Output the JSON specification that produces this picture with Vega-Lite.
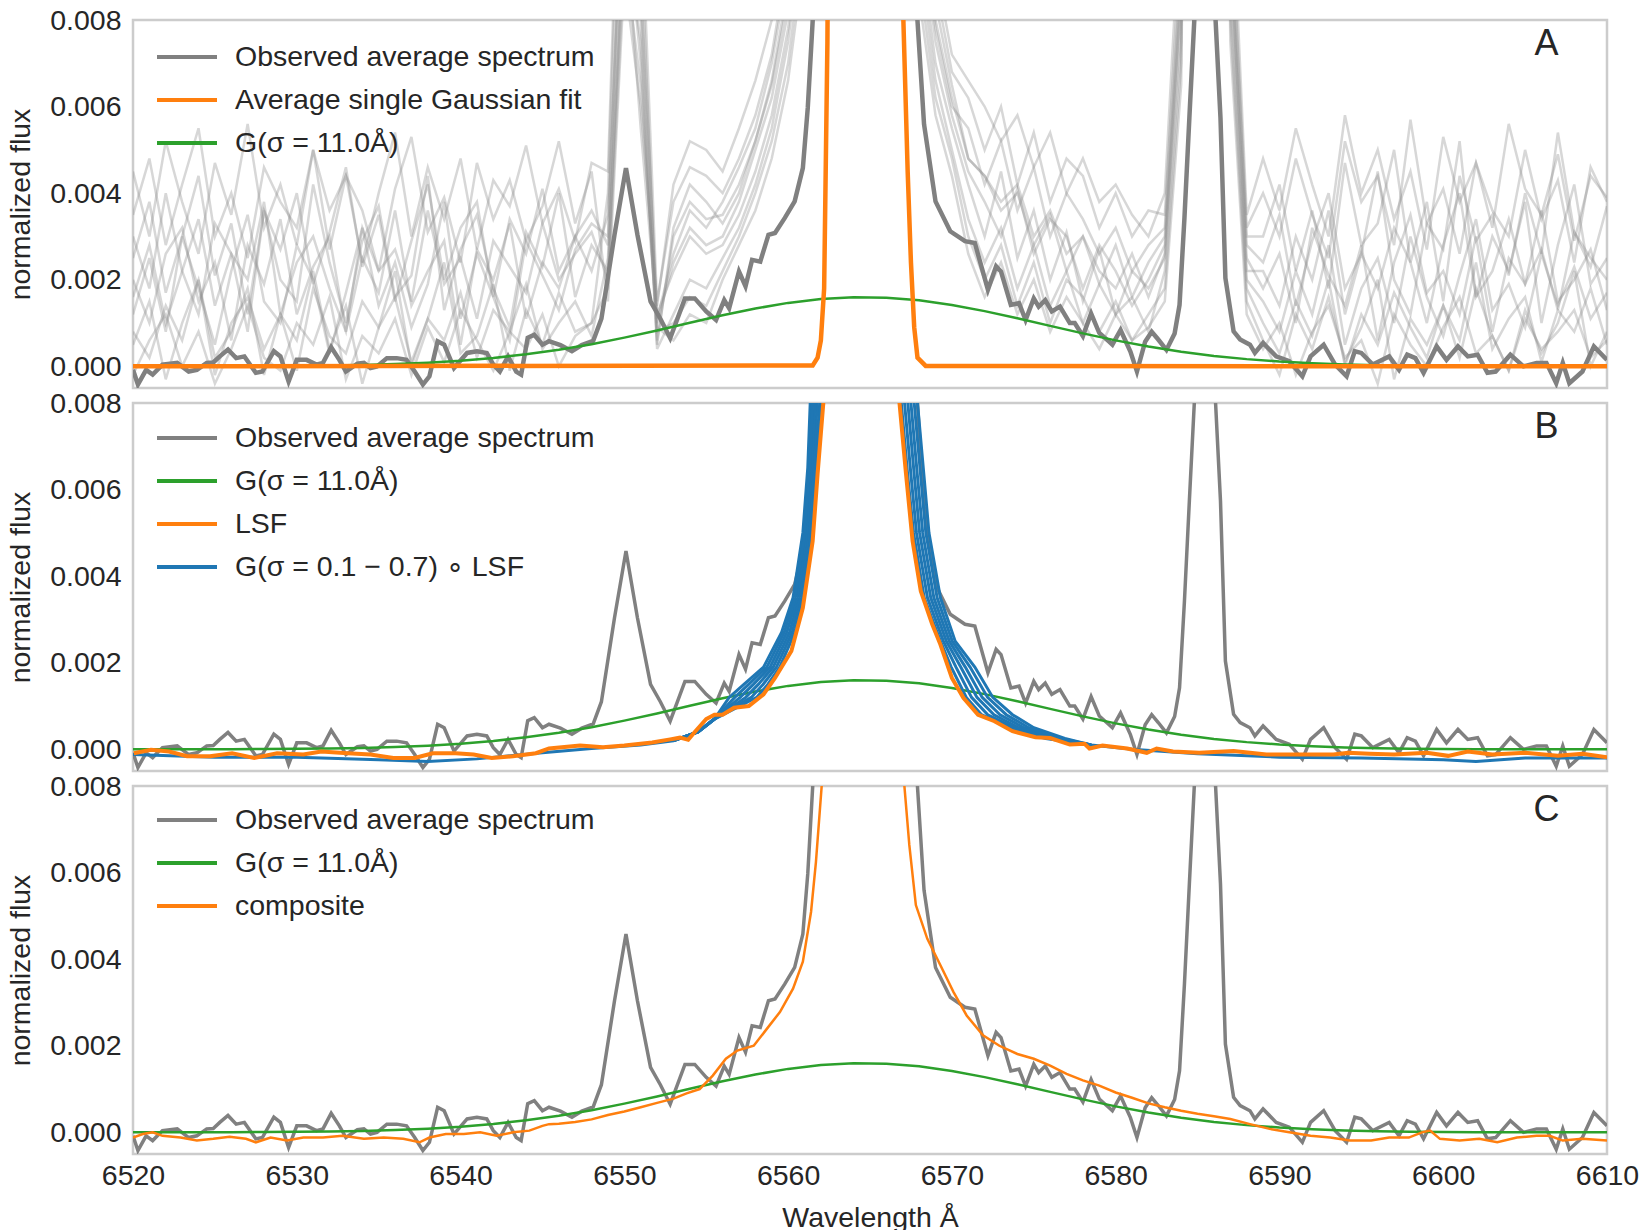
{
"$schema": "https://vega.github.io/schema/vega-lite/v6.json",
"padding": {"left": 5, "top": 4, "right": 4, "bottom": 4},
"background": "white",
"bounds": "flush",
"config": {
  "font": "Liberation Sans",
  "view": {"stroke": "#cccccc", "strokeWidth": 2.5},
  "axis": {"labelFontSize": 28.5, "titleFontSize": 28.5, "labelColor": "#262626", "titleColor": "#262626", "titleFontWeight": "normal", "domain": false, "ticks": false, "grid": false, "labelPadding": 12, "labelFlush": false, "labelOverlap": false, "labelFont": "Liberation Sans", "titleFont": "Liberation Sans"},
  "legend": {"orient": "none", "padding": 0, "symbolType": "M-2,0L2,0", "symbolSize": 900, "symbolStrokeWidth": 4, "labelFontSize": 28.5, "labelColor": "#262626", "labelFont": "Liberation Sans", "labelOffset": 31, "rowPadding": 11, "labelLimit": 0}
},
"datasets": {
"avg": [{"x":6520.0,"y":-0.00008},{"x":6520.3,"y":-0.00042},{"x":6520.8,"y":-0.00008},{"x":6521.2,"y":-0.00019},{"x":6521.8,"y":0.00004},{"x":6522.7,"y":0.00008},{"x":6523.4,"y":-0.00012},{"x":6523.9,"y":-0.00008},{"x":6524.5,"y":0.00008},{"x":6524.9,"y":0.00009},{"x":6525.3,"y":0.00023},{"x":6525.8,"y":0.00039},{"x":6526.3,"y":0.00019},{"x":6526.8,"y":0.00023},{"x":6527.5,"y":-0.00015},{"x":6527.9,"y":-0.00012},{"x":6528.6,"y":0.00035},{"x":6529.0,"y":0.00023},{"x":6529.5,"y":-0.00035},{"x":6530.0,"y":0.00015},{"x":6530.6,"y":0.00015},{"x":6531.2,"y":0.00004},{"x":6531.6,"y":0.00008},{"x":6532.1,"y":0.00044},{"x":6532.6,"y":0.00015},{"x":6533.0,"y":-0.00012},{"x":6533.7,"y":0.00006},{"x":6534.1,"y":0.00008},{"x":6534.5,"y":-0.00004},{"x":6534.9,"y":0.0},{"x":6535.5,"y":0.00019},{"x":6536.1,"y":0.00019},{"x":6536.7,"y":0.00015},{"x":6537.2,"y":-0.00012},{"x":6537.7,"y":-0.00042},{"x":6538.1,"y":-0.00023},{"x":6538.6,"y":0.00058},{"x":6539.0,"y":0.0005},{"x":6539.6,"y":-0.00004},{"x":6540.4,"y":0.00031},{"x":6541.0,"y":0.00035},{"x":6541.6,"y":0.00031},{"x":6542.0,"y":0.00004},{"x":6542.4,"y":-0.00012},{"x":6542.9,"y":0.00023},{"x":6543.4,"y":-0.00012},{"x":6543.7,"y":-0.00019},{"x":6544.1,"y":0.00066},{"x":6544.5,"y":0.00073},{"x":6545.0,"y":0.0005},{"x":6545.4,"y":0.00058},{"x":6546.1,"y":0.00049},{"x":6546.8,"y":0.00035},{"x":6547.4,"y":0.00049},{"x":6548.1,"y":0.00059},{"x":6548.6,"y":0.0011},{"x":6549.4,"y":0.00304},{"x":6550.1,"y":0.00458},{"x":6550.8,"y":0.00304},{"x":6551.6,"y":0.0015},{"x":6552.2,"y":0.0011},{"x":6552.8,"y":0.00065},{"x":6553.7,"y":0.00157},{"x":6554.3,"y":0.00157},{"x":6555.0,"y":0.00127},{"x":6555.6,"y":0.00107},{"x":6556.1,"y":0.00153},{"x":6556.4,"y":0.00134},{"x":6557.0,"y":0.00219},{"x":6557.4,"y":0.00185},{"x":6557.8,"y":0.00246},{"x":6558.3,"y":0.00242},{"x":6558.8,"y":0.00304},{"x":6559.2,"y":0.00308},{"x":6559.8,"y":0.00343},{"x":6560.4,"y":0.00381},{"x":6560.9,"y":0.00458},{"x":6561.2,"y":0.00597},{"x":6561.5,"y":0.00798},{"x":6562.0,"y":0.013},{"x":6563.0,"y":0.03},{"x":6564.0,"y":0.045},{"x":6565.0,"y":0.05},{"x":6566.0,"y":0.045},{"x":6567.0,"y":0.025},{"x":6567.5,"y":0.0125},{"x":6567.9,"y":0.00798},{"x":6568.3,"y":0.00559},{"x":6569.0,"y":0.00381},{"x":6569.9,"y":0.00312},{"x":6570.8,"y":0.00289},{"x":6571.4,"y":0.00285},{"x":6572.2,"y":0.00177},{"x":6572.7,"y":0.00231},{"x":6573.0,"y":0.00219},{"x":6573.6,"y":0.00142},{"x":6574.1,"y":0.00146},{"x":6574.5,"y":0.00107},{"x":6575.0,"y":0.00157},{"x":6575.3,"y":0.00138},{"x":6575.7,"y":0.00153},{"x":6576.1,"y":0.00127},{"x":6576.6,"y":0.00138},{"x":6577.2,"y":0.001},{"x":6577.5,"y":0.001},{"x":6578.0,"y":0.0007},{"x":6578.5,"y":0.00122},{"x":6579.0,"y":0.00077},{"x":6579.6,"y":0.00057},{"x":6579.8,"y":0.0005},{"x":6580.3,"y":0.00084},{"x":6580.9,"y":0.00034},{"x":6581.3,"y":-0.00012},{"x":6581.8,"y":0.00057},{"x":6582.2,"y":0.0008},{"x":6582.6,"y":0.00062},{"x":6583.1,"y":0.00038},{"x":6583.6,"y":0.00076},{"x":6583.9,"y":0.00142},{"x":6584.2,"y":0.00343},{"x":6584.5,"y":0.00574},{"x":6584.8,"y":0.00799},{"x":6585.2,"y":0.015},{"x":6585.7,"y":0.015},{"x":6586.1,"y":0.008},{"x":6586.4,"y":0.00574},{"x":6586.7,"y":0.00204},{"x":6587.2,"y":0.00081},{"x":6587.6,"y":0.00062},{"x":6588.2,"y":0.0005},{"x":6588.5,"y":0.00031},{"x":6589.0,"y":0.00054},{"x":6589.8,"y":0.00023},{"x":6590.6,"y":0.00012},{"x":6591.4,"y":-0.00023},{"x":6591.9,"y":0.00023},{"x":6592.7,"y":0.0005},{"x":6593.4,"y":0.00004},{"x":6594.1,"y":-0.00023},{"x":6594.6,"y":0.00035},{"x":6595.0,"y":0.00031},{"x":6595.7,"y":0.00004},{"x":6596.7,"y":0.00023},{"x":6597.3,"y":-0.00008},{"x":6597.8,"y":0.00027},{"x":6598.3,"y":0.00019},{"x":6598.8,"y":-0.00015},{"x":6599.6,"y":0.00046},{"x":6600.2,"y":0.00015},{"x":6600.9,"y":0.00046},{"x":6601.5,"y":0.00023},{"x":6602.1,"y":0.00027},{"x":6602.7,"y":-0.00015},{"x":6603.2,"y":-0.00012},{"x":6604.1,"y":0.00027},{"x":6604.9,"y":0.0},{"x":6605.7,"y":0.00008},{"x":6606.3,"y":0.00008},{"x":6606.9,"y":-0.00039},{"x":6607.3,"y":0.00008},{"x":6607.7,"y":-0.00039},{"x":6608.5,"y":-0.00012},{"x":6609.2,"y":0.00046},{"x":6610.0,"y":0.00015}],
"gauss": [{"x":6520,"y":0.0000004},{"x":6522,"y":0.0000009},{"x":6524,"y":0.0000018},{"x":6526,"y":0.0000034},{"x":6528,"y":0.0000063},{"x":6530,"y":0.0000114},{"x":6532,"y":0.0000198},{"x":6534,"y":0.0000334},{"x":6536,"y":0.0000544},{"x":6538,"y":0.0000859},{"x":6540,"y":0.000131},{"x":6542,"y":0.000194},{"x":6544,"y":0.000277},{"x":6546,"y":0.000383},{"x":6548,"y":0.000512},{"x":6550,"y":0.000663},{"x":6552,"y":0.00083},{"x":6554,"y":0.001006},{"x":6556,"y":0.001179},{"x":6558,"y":0.001336},{"x":6560,"y":0.001466},{"x":6562,"y":0.001556},{"x":6564,"y":0.001598},{"x":6566,"y":0.001587},{"x":6568,"y":0.001525},{"x":6570,"y":0.001418},{"x":6572,"y":0.001276},{"x":6574,"y":0.001111},{"x":6576,"y":0.000935},{"x":6578,"y":0.000762},{"x":6580,"y":0.0006},{"x":6582,"y":0.000458},{"x":6584,"y":0.000338},{"x":6586,"y":0.000241},{"x":6588,"y":0.000167},{"x":6590,"y":0.000111},{"x":6592,"y":0.000072},{"x":6594,"y":0.000045},{"x":6596,"y":0.000027},{"x":6598,"y":0.000016},{"x":6600,"y":0.000009},{"x":6602,"y":0.000005},{"x":6604,"y":0.000003},{"x":6606,"y":0.000001},{"x":6608,"y":0.000001},{"x":6610,"y":0.0000004}],
"fitA": [{"x":6520,"y":0},{"x":6561.5,"y":0.00002},{"x":6561.8,"y":0.0002},{"x":6562.0,"y":0.0006},{"x":6562.2,"y":0.0018},{"x":6562.4,"y":0.0075},{"x":6562.6,"y":0.02},{"x":6563.0,"y":0.05},{"x":6564.6,"y":0.1},{"x":6566.2,"y":0.05},{"x":6566.7,"y":0.02},{"x":6567.0,"y":0.0085},{"x":6567.3,"y":0.0045},{"x":6567.5,"y":0.0024},{"x":6567.7,"y":0.0009},{"x":6567.9,"y":0.0002},{"x":6568.4,"y":0.00001},{"x":6610,"y":0}],
"lsf": [{"x":6520.05,"y":-0.00009},{"x":6521.1,"y":-0.00001},{"x":6522.2,"y":-0.00005},{"x":6523.3,"y":-0.00016},{"x":6524.7,"y":-0.00016},{"x":6526.05,"y":-0.00009},{"x":6527.4,"y":-0.0002},{"x":6528.8,"y":-0.00009},{"x":6530.4,"y":-0.00012},{"x":6531.5,"y":-0.00005},{"x":6533.1,"y":-0.00009},{"x":6534.5,"y":-0.00012},{"x":6535.9,"y":-0.0002},{"x":6537.2,"y":-0.0002},{"x":6538.3,"y":-0.00009},{"x":6539.7,"y":-0.00009},{"x":6540.8,"y":-0.00012},{"x":6541.9,"y":-0.0002},{"x":6543.2,"y":-0.00016},{"x":6544.6,"y":-0.00009},{"x":6545.4,"y":0.00002},{"x":6547.3,"y":0.00009},{"x":6548.7,"y":0.00005},{"x":6550.0,"y":0.00009},{"x":6551.7,"y":0.00016},{"x":6552.8,"y":0.00023},{"x":6553.4,"y":0.00027},{"x":6553.9,"y":0.00022},{"x":6554.3,"y":0.0004},{"x":6555.0,"y":0.0007},{"x":6555.5,"y":0.0008},{"x":6556.0,"y":0.0008},{"x":6556.7,"y":0.00096},{"x":6557.6,"y":0.001},{"x":6558.5,"y":0.00127},{"x":6559.2,"y":0.00165},{"x":6560.2,"y":0.00227},{"x":6560.9,"y":0.00327},{"x":6561.5,"y":0.00481},{"x":6561.8,"y":0.00636},{"x":6562.15,"y":0.008},{"x":6562.5,"y":0.014},{"x":6563.0,"y":0.04},{"x":6564.6,"y":0.1},{"x":6566.3,"y":0.04},{"x":6566.6,"y":0.012},{"x":6566.8,"y":0.008},{"x":6567.2,"y":0.00636},{"x":6567.6,"y":0.00481},{"x":6568.1,"y":0.00366},{"x":6568.8,"y":0.00289},{"x":6569.3,"y":0.00242},{"x":6570.0,"y":0.00165},{"x":6570.7,"y":0.00119},{"x":6571.6,"y":0.0008},{"x":6572.6,"y":0.00065},{"x":6573.7,"y":0.00042},{"x":6575.1,"y":0.00028},{"x":6576.0,"y":0.00026},{"x":6577.2,"y":0.00011},{"x":6578.1,"y":0.00013},{"x":6578.4,"y":0.00002},{"x":6579.2,"y":0.00009},{"x":6580.7,"y":0.00002},{"x":6581.9,"y":-0.00008},{"x":6582.5,"y":0.00002},{"x":6583.5,"y":-0.00005},{"x":6585.1,"y":-0.00008},{"x":6587.2,"y":-0.00004},{"x":6588.2,"y":-0.00008},{"x":6589.2,"y":-0.00012},{"x":6591.3,"y":-0.00012},{"x":6593.3,"y":-0.00012},{"x":6594.2,"y":-0.00008},{"x":6595.5,"y":-0.0001},{"x":6597.0,"y":-0.00012},{"x":6599.0,"y":-0.00008},{"x":6600.3,"y":-0.00015},{"x":6601.5,"y":-0.00005},{"x":6603.0,"y":-0.00012},{"x":6605.0,"y":-0.00008},{"x":6607.0,"y":-0.00015},{"x":6608.5,"y":-0.0001},{"x":6610.0,"y":-0.00018}],
"comp": [{"x":6520.0,"y":-0.00012},{"x":6520.6,"y":-0.00004},{"x":6521.2,"y":0.0},{"x":6521.8,"y":-0.00008},{"x":6522.9,"y":-0.00012},{"x":6523.9,"y":-0.00019},{"x":6524.9,"y":-0.00015},{"x":6525.9,"y":-0.0001},{"x":6526.9,"y":-0.00015},{"x":6527.5,"y":-0.00023},{"x":6528.4,"y":-0.00012},{"x":6529.4,"y":-0.00019},{"x":6530.4,"y":-0.00012},{"x":6531.6,"y":-0.00012},{"x":6532.8,"y":-0.00008},{"x":6534.1,"y":-0.00015},{"x":6535.3,"y":-0.00012},{"x":6536.5,"y":-0.00015},{"x":6537.5,"y":-0.00023},{"x":6538.1,"y":-0.00012},{"x":6539.1,"y":-0.00004},{"x":6540.2,"y":-0.00004},{"x":6541.2,"y":0.0},{"x":6542.2,"y":-0.00008},{"x":6543.2,"y":0.0},{"x":6544.2,"y":0.00004},{"x":6545.0,"y":0.00015},{"x":6545.4,"y":0.00019},{"x":6546.0,"y":0.0002},{"x":6547.0,"y":0.00024},{"x":6548.0,"y":0.0003},{"x":6549.0,"y":0.0004},{"x":6550.0,"y":0.00048},{"x":6551.0,"y":0.00058},{"x":6552.0,"y":0.00068},{"x":6553.0,"y":0.00078},{"x":6553.8,"y":0.0009},{"x":6554.6,"y":0.001},{"x":6555.4,"y":0.00131},{"x":6556.2,"y":0.0017},{"x":6556.9,"y":0.00189},{"x":6557.9,"y":0.002},{"x":6558.7,"y":0.00239},{"x":6559.5,"y":0.00278},{"x":6560.3,"y":0.00332},{"x":6560.9,"y":0.00394},{"x":6561.4,"y":0.00509},{"x":6561.7,"y":0.00625},{"x":6562.05,"y":0.008},{"x":6562.5,"y":0.014},{"x":6563.2,"y":0.04},{"x":6564.6,"y":0.08},{"x":6566.2,"y":0.04},{"x":6566.8,"y":0.014},{"x":6567.1,"y":0.008},{"x":6567.4,"y":0.00664},{"x":6567.8,"y":0.00525},{"x":6568.5,"y":0.00447},{"x":6569.3,"y":0.00386},{"x":6570.1,"y":0.00324},{"x":6570.9,"y":0.0027},{"x":6571.9,"y":0.00224},{"x":6572.9,"y":0.002},{"x":6574.0,"y":0.00181},{"x":6575.0,"y":0.0017},{"x":6576.0,"y":0.00154},{"x":6577.0,"y":0.00135},{"x":6578.0,"y":0.0012},{"x":6579.0,"y":0.00108},{"x":6580.0,"y":0.00092},{"x":6581.0,"y":0.0008},{"x":6582.0,"y":0.00067},{"x":6583.0,"y":0.00058},{"x":6584.0,"y":0.0005},{"x":6585.0,"y":0.00043},{"x":6586.0,"y":0.00037},{"x":6587.0,"y":0.00031},{"x":6588.2,"y":0.00019},{"x":6589.4,"y":0.00008},{"x":6590.6,"y":0.0},{"x":6591.9,"y":-0.00008},{"x":6593.1,"y":-0.00012},{"x":6594.3,"y":-0.00019},{"x":6595.6,"y":-0.00019},{"x":6596.7,"y":-0.00012},{"x":6597.9,"y":-0.00012},{"x":6598.7,"y":0.0},{"x":6599.2,"y":0.00004},{"x":6599.8,"y":-0.00015},{"x":6601.0,"y":-0.00019},{"x":6602.2,"y":-0.00015},{"x":6603.3,"y":-0.00023},{"x":6604.5,"y":-0.00012},{"x":6605.7,"y":-0.00008},{"x":6606.5,"y":-0.00008},{"x":6607.3,"y":-0.00019},{"x":6608.5,"y":-0.00015},{"x":6610.0,"y":-0.00019}],
"blue": [
{"k":"b6","x":6520,"y":-0.00012},{"k":"b6","x":6525,"y":-0.00018},{"k":"b6","x":6530,"y":-0.00018},{"k":"b6","x":6535,"y":-0.00024},{"k":"b6","x":6538,"y":-0.00028},{"k":"b6","x":6541,"y":-0.00022},{"k":"b6","x":6545,"y":-0.00008},{"k":"b6","x":6548,"y":0.00002},{"k":"b6","x":6551,"y":0.0001},{"k":"b6","x":6553,"y":0.0002},{"k":"b6","x":6554.5,"y":0.0004},{"k":"b6","x":6555.5,"y":0.0007},{"k":"b6","x":6556.4,"y":0.0012},{"k":"b6","x":6557.3,"y":0.0015},{"k":"b6","x":6558.5,"y":0.0019},{"k":"b6","x":6559.6,"y":0.0027},{"k":"b6","x":6560.3,"y":0.0035},{"k":"b6","x":6560.9,"y":0.005},{"k":"b6","x":6561.2,"y":0.0065},{"k":"b6","x":6561.35,"y":0.008},{"k":"b6","x":6561.7,"y":0.012},{"k":"b6","x":6564.6,"y":0.06},{"k":"b6","x":6567.6,"y":0.012},{"k":"b6","x":6567.9,"y":0.008},{"k":"b6","x":6568.3,"y":0.0063},{"k":"b6","x":6568.6,"y":0.005},{"k":"b6","x":6569.3,"y":0.0035},{"k":"b6","x":6570.2,"y":0.0025},{"k":"b6","x":6571.4,"y":0.0019},{"k":"b6","x":6572.5,"y":0.0012},{"k":"b6","x":6573.7,"y":0.0008},{"k":"b6","x":6575.0,"y":0.0005},{"k":"b6","x":6576.9,"y":0.00025},{"k":"b6","x":6578.5,"y":0.0001},{"k":"b6","x":6581,"y":0.0},{"k":"b6","x":6585,"y":-0.0001},{"k":"b6","x":6590,"y":-0.00018},{"k":"b6","x":6595,"y":-0.0002},{"k":"b6","x":6600,"y":-0.00024},{"k":"b6","x":6602,"y":-0.00028},{"k":"b6","x":6605,"y":-0.0002},{"k":"b6","x":6610,"y":-0.0002},
{"k":"b1","x":6553,"y":0.0002},{"k":"b1","x":6554.5,"y":0.0004},{"k":"b1","x":6555.5,"y":0.0007},{"k":"b1","x":6558.08,"y":0.0012},{"k":"b1","x":6558.76,"y":0.0015},{"k":"b1","x":6559.49,"y":0.0019},{"k":"b1","x":6560.41,"y":0.0027},{"k":"b1","x":6560.92,"y":0.0035},{"k":"b1","x":6561.48,"y":0.005},{"k":"b1","x":6561.77,"y":0.0065},{"k":"b1","x":6562.07,"y":0.008},{"k":"b1","x":6562.33,"y":0.012},{"k":"b1","x":6564.6,"y":0.06},{"k":"b1","x":6566.7,"y":0.012},{"k":"b1","x":6566.91,"y":0.008},{"k":"b1","x":6567.31,"y":0.0063},{"k":"b1","x":6567.66,"y":0.005},{"k":"b1","x":6568.31,"y":0.0035},{"k":"b1","x":6569.3,"y":0.0025},{"k":"b1","x":6569.96,"y":0.0019},{"k":"b1","x":6570.88,"y":0.0012},{"k":"b1","x":6571.81,"y":0.0008},{"k":"b1","x":6573.47,"y":0.0005},{"k":"b1","x":6575.73,"y":0.00025},{"k":"b1","x":6578.5,"y":0.0001},
{"k":"b2","x":6553,"y":0.0002},{"k":"b2","x":6554.5,"y":0.0004},{"k":"b2","x":6555.5,"y":0.0007},{"k":"b2","x":6557.75,"y":0.0012},{"k":"b2","x":6558.47,"y":0.0015},{"k":"b2","x":6559.29,"y":0.0019},{"k":"b2","x":6560.25,"y":0.0027},{"k":"b2","x":6560.8,"y":0.0035},{"k":"b2","x":6561.36,"y":0.005},{"k":"b2","x":6561.65,"y":0.0065},{"k":"b2","x":6561.93,"y":0.008},{"k":"b2","x":6562.2,"y":0.012},{"k":"b2","x":6564.6,"y":0.06},{"k":"b2","x":6566.88,"y":0.012},{"k":"b2","x":6567.11,"y":0.008},{"k":"b2","x":6567.51,"y":0.0063},{"k":"b2","x":6567.84,"y":0.005},{"k":"b2","x":6568.51,"y":0.0035},{"k":"b2","x":6569.48,"y":0.0025},{"k":"b2","x":6570.25,"y":0.0019},{"k":"b2","x":6571.2,"y":0.0012},{"k":"b2","x":6572.19,"y":0.0008},{"k":"b2","x":6573.78,"y":0.0005},{"k":"b2","x":6575.96,"y":0.00025},{"k":"b2","x":6578.5,"y":0.0001},
{"k":"b3","x":6553,"y":0.0002},{"k":"b3","x":6554.5,"y":0.0004},{"k":"b3","x":6555.5,"y":0.0007},{"k":"b3","x":6557.41,"y":0.0012},{"k":"b3","x":6558.18,"y":0.0015},{"k":"b3","x":6559.09,"y":0.0019},{"k":"b3","x":6560.09,"y":0.0027},{"k":"b3","x":6560.67,"y":0.0035},{"k":"b3","x":6561.25,"y":0.005},{"k":"b3","x":6561.54,"y":0.0065},{"k":"b3","x":6561.78,"y":0.008},{"k":"b3","x":6562.08,"y":0.012},{"k":"b3","x":6564.6,"y":0.06},{"k":"b3","x":6567.06,"y":0.012},{"k":"b3","x":6567.31,"y":0.008},{"k":"b3","x":6567.71,"y":0.0063},{"k":"b3","x":6568.03,"y":0.005},{"k":"b3","x":6568.71,"y":0.0035},{"k":"b3","x":6569.66,"y":0.0025},{"k":"b3","x":6570.54,"y":0.0019},{"k":"b3","x":6571.53,"y":0.0012},{"k":"b3","x":6572.57,"y":0.0008},{"k":"b3","x":6574.08,"y":0.0005},{"k":"b3","x":6576.2,"y":0.00025},{"k":"b3","x":6578.5,"y":0.0001},
{"k":"b4","x":6553,"y":0.0002},{"k":"b4","x":6554.5,"y":0.0004},{"k":"b4","x":6555.5,"y":0.0007},{"k":"b4","x":6557.07,"y":0.0012},{"k":"b4","x":6557.88,"y":0.0015},{"k":"b4","x":6558.9,"y":0.0019},{"k":"b4","x":6559.92,"y":0.0027},{"k":"b4","x":6560.55,"y":0.0035},{"k":"b4","x":6561.13,"y":0.005},{"k":"b4","x":6561.43,"y":0.0065},{"k":"b4","x":6561.64,"y":0.008},{"k":"b4","x":6561.95,"y":0.012},{"k":"b4","x":6564.6,"y":0.06},{"k":"b4","x":6567.24,"y":0.012},{"k":"b4","x":6567.5,"y":0.008},{"k":"b4","x":6567.9,"y":0.0063},{"k":"b4","x":6568.22,"y":0.005},{"k":"b4","x":6568.9,"y":0.0035},{"k":"b4","x":6569.84,"y":0.0025},{"k":"b4","x":6570.82,"y":0.0019},{"k":"b4","x":6571.85,"y":0.0012},{"k":"b4","x":6572.94,"y":0.0008},{"k":"b4","x":6574.39,"y":0.0005},{"k":"b4","x":6576.43,"y":0.00025},{"k":"b4","x":6578.5,"y":0.0001},
{"k":"b5","x":6553,"y":0.0002},{"k":"b5","x":6554.5,"y":0.0004},{"k":"b5","x":6555.5,"y":0.0007},{"k":"b5","x":6556.74,"y":0.0012},{"k":"b5","x":6557.59,"y":0.0015},{"k":"b5","x":6558.7,"y":0.0019},{"k":"b5","x":6559.76,"y":0.0027},{"k":"b5","x":6560.42,"y":0.0035},{"k":"b5","x":6561.02,"y":0.005},{"k":"b5","x":6561.31,"y":0.0065},{"k":"b5","x":6561.49,"y":0.008},{"k":"b5","x":6561.83,"y":0.012},{"k":"b5","x":6564.6,"y":0.06},{"k":"b5","x":6567.42,"y":0.012},{"k":"b5","x":6567.7,"y":0.008},{"k":"b5","x":6568.1,"y":0.0063},{"k":"b5","x":6568.41,"y":0.005},{"k":"b5","x":6569.1,"y":0.0035},{"k":"b5","x":6570.02,"y":0.0025},{"k":"b5","x":6571.11,"y":0.0019},{"k":"b5","x":6572.18,"y":0.0012},{"k":"b5","x":6573.32,"y":0.0008},{"k":"b5","x":6574.69,"y":0.0005},{"k":"b5","x":6576.67,"y":0.00025},{"k":"b5","x":6578.5,"y":0.0001}
],
"faint": [
{"x":6520,"f1":0.0012,"f2":0.003,"f3":0.0005,"f4":0.0035,"f5":0.002,"f6":0.0008,"f7":0.0045,"f8":-0.0002,"f9":0.0025,"f10":0.0016},
{"x":6521,"f1":0.0025,"f2":0.0018,"f3":0.0015,"f4":0.0048,"f5":0.001,"f6":0.0002,"f7":0.003,"f8":0.0006,"f9":0.0038,"f10":0.0028},
{"x":6522,"f1":0.0008,"f2":0.004,"f3":-0.0003,"f4":0.0028,"f5":0.0026,"f6":0.0014,"f7":0.0052,"f8":0.0012,"f9":0.0017,"f10":0.001},
{"x":6523,"f1":0.003,"f2":0.0022,"f3":0.001,"f4":0.0042,"f5":0.0032,"f6":0.0006,"f7":0.0038,"f8":0.0,"f9":0.003,"f10":0.0022},
{"x":6524,"f1":0.0018,"f2":0.0012,"f3":0.002,"f4":0.0055,"f5":0.0015,"f6":0.002,"f7":0.0026,"f8":0.0008,"f9":0.0044,"f10":0.0034},
{"x":6525,"f1":0.0005,"f2":0.0033,"f3":0.0002,"f4":0.003,"f5":0.0024,"f6":-0.0002,"f7":0.0047,"f8":-0.0004,"f9":0.0021,"f10":0.0014},
{"x":6526,"f1":0.0022,"f2":0.0026,"f3":0.0008,"f4":0.004,"f5":0.0006,"f6":0.001,"f7":0.0035,"f8":0.0004,"f9":0.0033,"f10":0.0026},
{"x":6527,"f1":0.0035,"f2":0.0008,"f3":0.0018,"f4":0.0025,"f5":0.0028,"f6":0.0016,"f7":0.0056,"f8":0.0014,"f9":0.0012,"f10":0.002},
{"x":6528,"f1":0.0015,"f2":0.0036,"f3":-0.0002,"f4":0.0046,"f5":0.0019,"f6":0.0004,"f7":0.0032,"f8":0.0002,"f9":0.0036,"f10":0.0038},
{"x":6529,"f1":0.001,"f2":0.002,"f3":0.0012,"f4":0.0038,"f5":0.0034,"f6":0.0012,"f7":0.0042,"f8":-0.0001,"f9":0.0027,"f10":0.0012},
{"x":6530,"f1":0.0028,"f2":0.0015,"f3":0.0006,"f4":0.0032,"f5":0.0012,"f6":-0.0001,"f7":0.0028,"f8":0.001,"f9":0.004,"f10":0.0024},
{"x":6531,"f1":0.002,"f2":0.0042,"f3":0.0022,"f4":0.005,"f5":0.0023,"f6":0.0018,"f7":0.005,"f8":0.0005,"f9":0.0019,"f10":0.003},
{"x":6532,"f1":0.0003,"f2":0.0024,"f3":0.0004,"f4":0.0027,"f5":0.003,"f6":0.0007,"f7":0.0036,"f8":0.0016,"f9":0.0031,"f10":0.0018},
{"x":6533,"f1":0.0017,"f2":0.001,"f3":0.0014,"f4":0.0044,"f5":0.0008,"f6":0.0003,"f7":0.0044,"f8":-0.0003,"f9":0.0046,"f10":0.0008},
{"x":6534,"f1":0.0032,"f2":0.0029,"f3":-0.0004,"f4":0.0036,"f5":0.0025,"f6":0.0015,"f7":0.0024,"f8":0.0007,"f9":0.0023,"f10":0.0032},
{"x":6535,"f1":0.0014,"f2":0.0037,"f3":0.0009,"f4":0.0022,"f5":0.0017,"f6":0.0009,"f7":0.004,"f8":0.0003,"f9":0.0035,"f10":0.0022},
{"x":6536,"f1":0.0024,"f2":0.0016,"f3":0.0016,"f4":0.0041,"f5":0.0036,"f6":0.0022,"f7":0.0054,"f8":0.0011,"f9":0.0015,"f10":0.0027},
{"x":6537,"f1":0.0009,"f2":0.0021,"f3":0.0001,"f4":0.0053,"f5":0.0014,"f6":0.0,"f7":0.003,"f8":-0.0002,"f9":0.0029,"f10":0.0015},
{"x":6538,"f1":0.0019,"f2":0.0044,"f3":0.0011,"f4":0.0031,"f5":0.0022,"f6":0.0011,"f7":0.0046,"f8":0.0009,"f9":0.0042,"f10":0.0036},
{"x":6539,"f1":0.0038,"f2":0.0013,"f3":0.0024,"f4":0.0039,"f5":0.0029,"f6":0.0006,"f7":0.0034,"f8":0.0001,"f9":0.002,"f10":0.0019},
{"x":6540,"f1":0.0011,"f2":0.0027,"f3":0.0003,"f4":0.0024,"f5":0.0005,"f6":0.0017,"f7":0.0048,"f8":0.0013,"f9":0.0032,"f10":0.0025},
{"x":6541,"f1":0.0026,"f2":0.0035,"f3":0.0007,"f4":0.0047,"f5":0.0027,"f6":0.0002,"f7":0.0027,"f8":0.0006,"f9":0.0038,"f10":0.0011},
{"x":6542,"f1":0.0016,"f2":0.0018,"f3":0.0019,"f4":0.0034,"f5":0.002,"f6":0.0013,"f7":0.0043,"f8":-0.0001,"f9":0.0016,"f10":0.0029},
{"x":6543,"f1":0.0006,"f2":0.0009,"f3":-0.0001,"f4":0.0043,"f5":0.0033,"f6":0.0008,"f7":0.0037,"f8":0.0008,"f9":0.0034,"f10":0.0023},
{"x":6544,"f1":0.0029,"f2":0.0031,"f3":0.0013,"f4":0.0029,"f5":0.0011,"f6":0.0019,"f7":0.0051,"f8":0.0004,"f9":0.0026,"f10":0.0017},
{"x":6545,"f1":0.0021,"f2":0.0023,"f3":0.0005,"f4":0.0037,"f5":0.0024,"f6":0.0004,"f7":0.0033,"f8":0.0012,"f9":0.0041,"f10":0.0033},
{"x":6546,"f1":0.0013,"f2":0.004,"f3":0.0017,"f4":0.0052,"f5":0.0018,"f6":0.001,"f7":0.0041,"f8":0.0,"f9":0.0022,"f10":0.002},
{"x":6547,"f1":0.0027,"f2":0.0016,"f3":0.0008,"f4":0.0033,"f5":0.003,"f6":0.0015,"f7":0.0029,"f8":0.0007,"f9":0.003,"f10":0.0026},
{"x":6548,"f1":0.0033,"f2":0.0028,"f3":0.001,"f4":0.0045,"f5":0.0022,"f6":0.0007,"f7":0.0047,"f8":0.001,"f9":0.0036,"f10":0.0031},
{"x":6549,"f1":0.003,"f2":0.0022,"f3":0.004,"f4":0.0015,"f5":0.0035,"f6":0.0025,"f7":0.0045,"f8":0.0018,"f9":0.0028,"f10":0.002},
{"x":6550,"f1":0.013,"f2":0.011,"f3":0.015,"f4":0.009,"f5":0.012,"f6":0.01,"f7":0.016,"f8":0.0095,"f9":0.0125,"f10":0.0105},
{"x":6551,"f1":0.009,"f2":0.007,"f3":0.01,"f4":0.006,"f5":0.0085,"f6":0.0075,"f7":0.011,"f8":0.0065,"f9":0.008,"f10":0.0055},
{"x":6552,"f1":0.0012,"f2":0.0006,"f3":0.0008,"f4":0.0015,"f5":0.001,"f6":0.0004,"f7":0.0014,"f8":0.0009,"f9":0.0005,"f10":0.0011},
{"x":6553,"f1":0.0022,"f2":0.003,"f3":0.001,"f4":0.0038,"f5":0.0024,"f6":0.0012,"f7":0.0042,"f8":0.0006,"f9":0.0032,"f10":0.0026},
{"x":6554,"f1":0.003,"f2":0.0038,"f3":0.0016,"f4":0.0046,"f5":0.0032,"f6":0.002,"f7":0.0052,"f8":0.0012,"f9":0.0042,"f10":0.0036},
{"x":6555,"f1":0.0026,"f2":0.0034,"f3":0.0014,"f4":0.0044,"f5":0.0028,"f6":0.0018,"f7":0.005,"f8":0.001,"f9":0.0038,"f10":0.0032},
{"x":6556,"f1":0.0028,"f2":0.0035,"f3":0.0022,"f4":0.004,"f5":0.003,"f6":0.0025,"f7":0.0045,"f8":0.002,"f9":0.0033,"f10":0.0038},
{"x":6557,"f1":0.0035,"f2":0.0042,"f3":0.003,"f4":0.0048,"f5":0.0038,"f6":0.0032,"f7":0.0055,"f8":0.0028,"f9":0.004,"f10":0.0046},
{"x":6558,"f1":0.0045,"f2":0.0052,"f3":0.004,"f4":0.0058,"f5":0.005,"f6":0.0042,"f7":0.0066,"f8":0.0036,"f9":0.0052,"f10":0.0055},
{"x":6559,"f1":0.0058,"f2":0.0065,"f3":0.0052,"f4":0.0072,"f5":0.0062,"f6":0.0055,"f7":0.008,"f8":0.0048,"f9":0.0066,"f10":0.007},
{"x":6560,"f1":0.0078,"f2":0.0085,"f3":0.007,"f4":0.0095,"f5":0.0082,"f6":0.0075,"f7":0.0105,"f8":0.0066,"f9":0.0088,"f10":0.0092},
{"x":6561,"f1":0.011,"f2":0.012,"f3":0.01,"f4":0.0135,"f5":0.0115,"f6":0.0105,"f7":0.015,"f8":0.0095,"f9":0.0125,"f10":0.013},
{"x":6562,"f1":0.03,"f2":0.032,"f3":0.028,"f4":0.035,"f5":0.031,"f6":0.029,"f7":0.038,"f8":0.027,"f9":0.033,"f10":0.034},
{"x":6563,"f1":0.06,"f2":0.06,"f3":0.06,"f4":0.06,"f5":0.06,"f6":0.06,"f7":0.06,"f8":0.06,"f9":0.06,"f10":0.06},
{"x":6564,"f1":0.08,"f2":0.08,"f3":0.08,"f4":0.08,"f5":0.08,"f6":0.08,"f7":0.08,"f8":0.08,"f9":0.08,"f10":0.08},
{"x":6565,"f1":0.08,"f2":0.08,"f3":0.08,"f4":0.08,"f5":0.08,"f6":0.08,"f7":0.08,"f8":0.08,"f9":0.08,"f10":0.08},
{"x":6566,"f1":0.06,"f2":0.06,"f3":0.06,"f4":0.06,"f5":0.06,"f6":0.06,"f7":0.06,"f8":0.06,"f9":0.06,"f10":0.06},
{"x":6567,"f1":0.025,"f2":0.028,"f3":0.023,"f4":0.03,"f5":0.026,"f6":0.024,"f7":0.032,"f8":0.022,"f9":0.027,"f10":0.029},
{"x":6568,"f1":0.01,"f2":0.0115,"f3":0.009,"f4":0.0125,"f5":0.0105,"f6":0.0095,"f7":0.013,"f8":0.0085,"f9":0.011,"f10":0.012},
{"x":6569,"f1":0.007,"f2":0.008,"f3":0.0062,"f4":0.0088,"f5":0.0075,"f6":0.0066,"f7":0.0092,"f8":0.0058,"f9":0.0078,"f10":0.0084},
{"x":6570,"f1":0.0055,"f2":0.0062,"f3":0.0048,"f4":0.0068,"f5":0.0058,"f6":0.005,"f7":0.0072,"f8":0.0044,"f9":0.006,"f10":0.0065},
{"x":6571,"f1":0.0042,"f2":0.0048,"f3":0.003,"f4":0.0062,"f5":0.0045,"f6":0.0034,"f7":0.0066,"f8":0.0026,"f9":0.0055,"f10":0.0048},
{"x":6572,"f1":0.003,"f2":0.0044,"f3":0.002,"f4":0.005,"f5":0.0038,"f6":0.0024,"f7":0.006,"f8":0.0016,"f9":0.0042,"f10":0.0044},
{"x":6573,"f1":0.0045,"f2":0.0036,"f3":0.0028,"f4":0.006,"f5":0.003,"f6":0.0032,"f7":0.0052,"f8":0.0024,"f9":0.0052,"f10":0.0038},
{"x":6574,"f1":0.0025,"f2":0.004,"f3":0.0014,"f4":0.0042,"f5":0.0041,"f6":0.0018,"f7":0.0058,"f8":0.0012,"f9":0.0036,"f10":0.0042},
{"x":6575,"f1":0.0036,"f2":0.0028,"f3":0.0024,"f4":0.0054,"f5":0.0026,"f6":0.0028,"f7":0.0046,"f8":0.002,"f9":0.0046,"f10":0.003},
{"x":6576,"f1":0.002,"f2":0.0035,"f3":0.001,"f4":0.0038,"f5":0.0034,"f6":0.0014,"f7":0.0054,"f8":0.0008,"f9":0.003,"f10":0.0036},
{"x":6577,"f1":0.0031,"f2":0.0022,"f3":0.002,"f4":0.0048,"f5":0.003,"f6":0.0022,"f7":0.004,"f8":0.0016,"f9":0.004,"f10":0.0026},
{"x":6578,"f1":0.0015,"f2":0.003,"f3":0.0016,"f4":0.0044,"f5":0.0018,"f6":0.001,"f7":0.0048,"f8":0.001,"f9":0.0034,"f10":0.003},
{"x":6579,"f1":0.0027,"f2":0.0019,"f3":0.0008,"f4":0.0032,"f5":0.0028,"f6":0.0019,"f7":0.0038,"f8":0.0004,"f9":0.0026,"f10":0.0022},
{"x":6580,"f1":0.0012,"f2":0.0028,"f3":0.0015,"f4":0.004,"f5":0.0022,"f6":0.0012,"f7":0.0042,"f8":0.0012,"f9":0.0032,"f10":0.0018},
{"x":6581,"f1":0.0022,"f2":0.0016,"f3":0.0006,"f4":0.003,"f5":0.0014,"f6":0.0016,"f7":0.0035,"f8":0.0006,"f9":0.0022,"f10":0.0026},
{"x":6582,"f1":0.0018,"f2":0.0024,"f3":0.0012,"f4":0.0036,"f5":0.002,"f6":0.0008,"f7":0.003,"f8":0.0009,"f9":0.0028,"f10":0.0016},
{"x":6583,"f1":0.0025,"f2":0.003,"f3":0.0018,"f4":0.0035,"f5":0.0028,"f6":0.0022,"f7":0.004,"f8":0.0015,"f9":0.0032,"f10":0.0026},
{"x":6584,"f1":0.008,"f2":0.009,"f3":0.007,"f4":0.01,"f5":0.0085,"f6":0.0075,"f7":0.011,"f8":0.0065,"f9":0.0095,"f10":0.0088},
{"x":6585,"f1":0.04,"f2":0.04,"f3":0.04,"f4":0.04,"f5":0.04,"f6":0.04,"f7":0.04,"f8":0.04,"f9":0.04,"f10":0.04},
{"x":6586,"f1":0.04,"f2":0.04,"f3":0.04,"f4":0.04,"f5":0.04,"f6":0.04,"f7":0.04,"f8":0.04,"f9":0.04,"f10":0.04},
{"x":6587,"f1":0.009,"f2":0.01,"f3":0.008,"f4":0.011,"f5":0.0095,"f6":0.0085,"f7":0.012,"f8":0.0075,"f9":0.0105,"f10":0.0098},
{"x":6588,"f1":0.002,"f2":0.0028,"f3":0.0015,"f4":0.0032,"f5":0.0025,"f6":0.0018,"f7":0.0035,"f8":0.0012,"f9":0.003,"f10":0.0022},
{"x":6589,"f1":0.0015,"f2":0.0024,"f3":0.0006,"f4":0.004,"f5":0.0018,"f6":0.001,"f7":0.0048,"f8":0.0004,"f9":0.003,"f10":0.0022},
{"x":6590,"f1":0.0008,"f2":0.0035,"f3":-0.0002,"f4":0.003,"f5":0.0026,"f6":0.0003,"f7":0.0036,"f8":0.001,"f9":0.0042,"f10":0.0014},
{"x":6591,"f1":0.0022,"f2":0.0014,"f3":0.0012,"f4":0.0048,"f5":0.001,"f6":0.0015,"f7":0.0055,"f8":-0.0002,"f9":0.0022,"f10":0.003},
{"x":6592,"f1":0.0012,"f2":0.0029,"f3":0.0004,"f4":0.0035,"f5":0.0032,"f6":0.0007,"f7":0.0042,"f8":0.0008,"f9":0.0036,"f10":0.002},
{"x":6593,"f1":0.0028,"f2":0.004,"f3":0.0016,"f4":0.0025,"f5":0.0021,"f6":0.002,"f7":0.003,"f8":0.0014,"f9":0.0018,"f10":0.0036},
{"x":6594,"f1":0.0005,"f2":0.0018,"f3":0.0001,"f4":0.0052,"f5":0.0014,"f6":0.0,"f7":0.0058,"f8":0.0002,"f9":0.0047,"f10":0.0012},
{"x":6595,"f1":0.0018,"f2":0.0026,"f3":0.0009,"f4":0.0038,"f5":0.0028,"f6":0.0012,"f7":0.004,"f8":0.0006,"f9":0.0028,"f10":0.0026},
{"x":6596,"f1":0.0025,"f2":0.0045,"f3":0.002,"f4":0.0044,"f5":0.0006,"f6":0.0005,"f7":0.005,"f8":-0.0004,"f9":0.0033,"f10":0.0018},
{"x":6597,"f1":0.001,"f2":0.002,"f3":-0.0003,"f4":0.0028,"f5":0.0024,"f6":0.0017,"f7":0.0034,"f8":0.0012,"f9":0.005,"f10":0.0032},
{"x":6598,"f1":0.003,"f2":0.0012,"f3":0.0011,"f4":0.0057,"f5":0.0035,"f6":0.0009,"f7":0.0045,"f8":0.0005,"f9":0.0024,"f10":0.0024},
{"x":6599,"f1":0.0016,"f2":0.0033,"f3":0.0005,"f4":0.0033,"f5":0.0017,"f6":0.0002,"f7":0.0027,"f8":0.0,"f9":0.0038,"f10":0.001},
{"x":6600,"f1":0.0007,"f2":0.0027,"f3":0.0014,"f4":0.0041,"f5":0.0022,"f6":0.0014,"f7":0.0053,"f8":0.0009,"f9":0.0015,"f10":0.0028},
{"x":6601,"f1":0.0021,"f2":0.0052,"f3":0.0002,"f4":0.0026,"f5":0.0012,"f6":0.0006,"f7":0.0038,"f8":0.0016,"f9":0.0044,"f10":0.004},
{"x":6602,"f1":0.0034,"f2":0.0016,"f3":0.0018,"f4":0.0047,"f5":0.003,"f6":0.0024,"f7":0.0047,"f8":0.0003,"f9":0.0029,"f10":0.0016},
{"x":6603,"f1":0.0013,"f2":0.003,"f3":0.0007,"f4":0.0036,"f5":0.0008,"f6":0.0004,"f7":0.0032,"f8":0.0007,"f9":0.0035,"f10":0.0022},
{"x":6604,"f1":0.0019,"f2":0.0022,"f3":-0.0001,"f4":0.003,"f5":0.0025,"f6":0.0011,"f7":0.0056,"f8":-0.0001,"f9":0.0021,"f10":0.0034},
{"x":6605,"f1":0.0009,"f2":0.0038,"f3":0.0013,"f4":0.005,"f5":0.0019,"f6":0.0016,"f7":0.0041,"f8":0.0011,"f9":0.004,"f10":0.0019},
{"x":6606,"f1":0.0026,"f2":0.001,"f3":0.0003,"f4":0.0034,"f5":0.0036,"f6":0.0001,"f7":0.0035,"f8":0.0004,"f9":0.0026,"f10":0.0027},
{"x":6607,"f1":0.0014,"f2":0.0028,"f3":0.001,"f4":0.0043,"f5":0.0015,"f6":0.0013,"f7":0.0049,"f8":0.0008,"f9":0.0054,"f10":0.0013},
{"x":6608,"f1":0.0023,"f2":0.0042,"f3":0.0022,"f4":0.0024,"f5":0.002,"f6":0.0008,"f7":0.0029,"f8":0.0013,"f9":0.0031,"f10":0.0031},
{"x":6609,"f1":0.0011,"f2":0.0019,"f3":0.0,"f4":0.0046,"f5":0.0027,"f6":0.0018,"f7":0.0044,"f8":0.0002,"f9":0.0023,"f10":0.0025},
{"x":6610,"f1":0.0017,"f2":0.0025,"f3":0.0008,"f4":0.0038,"f5":0.0013,"f6":0.0005,"f7":0.0039,"f8":0.0006,"f9":0.0037,"f10":0.002}
]
},
"spacing": 15,
"resolve": {"scale": {"color": "independent"}, "legend": {"color": "independent"}},
"vconcat": [
{
 "width": 1474, "height": 368,
 "layer": [
  {"data": {"name": "faint"}, "transform": [{"fold": ["f1","f2","f3","f4","f5","f6","f7","f8","f9","f10"], "as": ["id", "y"]}],
   "mark": {"type": "line", "clip": true, "strokeWidth": 2.5, "color": "#8c8c8c", "opacity": 0.35},
   "encoding": {
    "x": {"field": "x", "type": "quantitative", "scale": {"domain": [6520, 6610], "nice": false, "zero": false}, "axis": null},
    "y": {"field": "y", "type": "quantitative", "scale": {"domain": [-0.0005, 0.008], "nice": false, "zero": false}, "axis": {"values": [0, 0.002, 0.004, 0.006, 0.008], "format": ".3f", "title": "normalized flux", "titlePadding": 14}},
    "detail": {"field": "id"}}},
  {"data": {"name": "avg"}, "mark": {"type": "line", "clip": true, "strokeWidth": 4.5},
   "encoding": {
    "x": {"field": "x", "type": "quantitative", "scale": {"domain": [6520, 6610], "nice": false, "zero": false}, "axis": null},
    "y": {"field": "y", "type": "quantitative", "scale": {"domain": [-0.0005, 0.008], "nice": false, "zero": false}, "axis": {"values": [0, 0.002, 0.004, 0.006, 0.008], "format": ".3f", "title": "normalized flux", "titlePadding": 14}},
    "color": {"datum": "Observed average spectrum", "type": "nominal", "scale": {"domain": ["Observed average spectrum", "Average single Gaussian fit", "G(σ = 11.0Å)"], "range": ["#808080", "#ff7f0e", "#2ca02c"]}, "legend": {"title": null, "orient": "none", "legendX": 37, "legendY": 20}}}},
  {"data": {"name": "gauss"}, "mark": {"type": "line", "clip": true, "strokeWidth": 2.5},
   "encoding": {
    "x": {"field": "x", "type": "quantitative", "scale": {"domain": [6520, 6610], "nice": false, "zero": false}, "axis": null},
    "y": {"field": "y", "type": "quantitative", "scale": {"domain": [-0.0005, 0.008], "nice": false, "zero": false}, "axis": {"values": [0, 0.002, 0.004, 0.006, 0.008], "format": ".3f", "title": "normalized flux", "titlePadding": 14}},
    "color": {"datum": "G(σ = 11.0Å)", "type": "nominal"}}},
  {"data": {"name": "fitA"}, "mark": {"type": "line", "clip": true, "strokeWidth": 4.5},
   "encoding": {
    "x": {"field": "x", "type": "quantitative", "scale": {"domain": [6520, 6610], "nice": false, "zero": false}, "axis": null},
    "y": {"field": "y", "type": "quantitative", "scale": {"domain": [-0.0005, 0.008], "nice": false, "zero": false}, "axis": {"values": [0, 0.002, 0.004, 0.006, 0.008], "format": ".3f", "title": "normalized flux", "titlePadding": 14}},
    "color": {"datum": "Average single Gaussian fit", "type": "nominal"}}},
  {"data": {"values": [{}]}, "mark": {"type": "text", "fontSize": 36, "color": "#262626", "align": "center", "baseline": "middle"},
   "encoding": {
    "x": {"datum": 6606.3, "type": "quantitative", "scale": {"domain": [6520, 6610], "nice": false, "zero": false}, "axis": null},
    "y": {"datum": 0.00745, "type": "quantitative", "scale": {"domain": [-0.0005, 0.008], "nice": false, "zero": false}, "axis": {"values": [0, 0.002, 0.004, 0.006, 0.008], "format": ".3f", "title": "normalized flux", "titlePadding": 14}},
    "text": {"value": "A"}}}
 ]
},
{
 "width": 1474, "height": 368,
 "layer": [
  {"data": {"name": "avg"}, "mark": {"type": "line", "clip": true, "strokeWidth": 3.5},
   "encoding": {
    "x": {"field": "x", "type": "quantitative", "scale": {"domain": [6520, 6610], "nice": false, "zero": false}, "axis": null},
    "y": {"field": "y", "type": "quantitative", "scale": {"domain": [-0.0005, 0.008], "nice": false, "zero": false}, "axis": {"values": [0, 0.002, 0.004, 0.006, 0.008], "format": ".3f", "title": "normalized flux", "titlePadding": 14}},
    "color": {"datum": "Observed average spectrum", "type": "nominal", "scale": {"domain": ["Observed average spectrum", "G(σ = 11.0Å)", "LSF", "G(σ = 0.1 − 0.7) ∘ LSF"], "range": ["#808080", "#2ca02c", "#ff7f0e", "#1f77b4"]}, "legend": {"title": null, "orient": "none", "legendX": 37, "legendY": 18}}}},
  {"data": {"name": "gauss"}, "mark": {"type": "line", "clip": true, "strokeWidth": 2.5},
   "encoding": {
    "x": {"field": "x", "type": "quantitative", "scale": {"domain": [6520, 6610], "nice": false, "zero": false}, "axis": null},
    "y": {"field": "y", "type": "quantitative", "scale": {"domain": [-0.0005, 0.008], "nice": false, "zero": false}, "axis": {"values": [0, 0.002, 0.004, 0.006, 0.008], "format": ".3f", "title": "normalized flux", "titlePadding": 14}},
    "color": {"datum": "G(σ = 11.0Å)", "type": "nominal"}}},
  {"data": {"name": "blue"}, "mark": {"type": "line", "clip": true, "strokeWidth": 3},
   "encoding": {
    "x": {"field": "x", "type": "quantitative", "scale": {"domain": [6520, 6610], "nice": false, "zero": false}, "axis": null},
    "y": {"field": "y", "type": "quantitative", "scale": {"domain": [-0.0005, 0.008], "nice": false, "zero": false}, "axis": {"values": [0, 0.002, 0.004, 0.006, 0.008], "format": ".3f", "title": "normalized flux", "titlePadding": 14}},
    "color": {"datum": "G(σ = 0.1 − 0.7) ∘ LSF", "type": "nominal"}, "detail": {"field": "k"}}},
  {"data": {"name": "lsf"}, "mark": {"type": "line", "clip": true, "strokeWidth": 4},
   "encoding": {
    "x": {"field": "x", "type": "quantitative", "scale": {"domain": [6520, 6610], "nice": false, "zero": false}, "axis": null},
    "y": {"field": "y", "type": "quantitative", "scale": {"domain": [-0.0005, 0.008], "nice": false, "zero": false}, "axis": {"values": [0, 0.002, 0.004, 0.006, 0.008], "format": ".3f", "title": "normalized flux", "titlePadding": 14}},
    "color": {"datum": "LSF", "type": "nominal"}}},
  {"data": {"values": [{}]}, "mark": {"type": "text", "fontSize": 36, "color": "#262626", "align": "center", "baseline": "middle"},
   "encoding": {
    "x": {"datum": 6606.3, "type": "quantitative", "scale": {"domain": [6520, 6610], "nice": false, "zero": false}, "axis": null},
    "y": {"datum": 0.00745, "type": "quantitative", "scale": {"domain": [-0.0005, 0.008], "nice": false, "zero": false}, "axis": {"values": [0, 0.002, 0.004, 0.006, 0.008], "format": ".3f", "title": "normalized flux", "titlePadding": 14}},
    "text": {"value": "B"}}}
 ]
},
{
 "width": 1474, "height": 368,
 "layer": [
  {"data": {"name": "avg"}, "mark": {"type": "line", "clip": true, "strokeWidth": 3.5},
   "encoding": {
    "x": {"field": "x", "type": "quantitative", "scale": {"domain": [6520, 6610], "nice": false, "zero": false}, "axis": {"values": [6520, 6530, 6540, 6550, 6560, 6570, 6580, 6590, 6600, 6610], "format": "d", "title": "Wavelength Å", "labelPadding": 7, "titlePadding": 14}},
    "y": {"field": "y", "type": "quantitative", "scale": {"domain": [-0.0005, 0.008], "nice": false, "zero": false}, "axis": {"values": [0, 0.002, 0.004, 0.006, 0.008], "format": ".3f", "title": "normalized flux", "titlePadding": 14}},
    "color": {"datum": "Observed average spectrum", "type": "nominal", "scale": {"domain": ["Observed average spectrum", "G(σ = 11.0Å)", "composite"], "range": ["#808080", "#2ca02c", "#ff7f0e"]}, "legend": {"title": null, "orient": "none", "legendX": 37, "legendY": 17}}}},
  {"data": {"name": "gauss"}, "mark": {"type": "line", "clip": true, "strokeWidth": 2.5},
   "encoding": {
    "x": {"field": "x", "type": "quantitative", "scale": {"domain": [6520, 6610], "nice": false, "zero": false}, "axis": {"values": [6520, 6530, 6540, 6550, 6560, 6570, 6580, 6590, 6600, 6610], "format": "d", "title": "Wavelength Å", "labelPadding": 7, "titlePadding": 14}},
    "y": {"field": "y", "type": "quantitative", "scale": {"domain": [-0.0005, 0.008], "nice": false, "zero": false}, "axis": {"values": [0, 0.002, 0.004, 0.006, 0.008], "format": ".3f", "title": "normalized flux", "titlePadding": 14}},
    "color": {"datum": "G(σ = 11.0Å)", "type": "nominal"}}},
  {"data": {"name": "comp"}, "mark": {"type": "line", "clip": true, "strokeWidth": 2.5},
   "encoding": {
    "x": {"field": "x", "type": "quantitative", "scale": {"domain": [6520, 6610], "nice": false, "zero": false}, "axis": {"values": [6520, 6530, 6540, 6550, 6560, 6570, 6580, 6590, 6600, 6610], "format": "d", "title": "Wavelength Å", "labelPadding": 7, "titlePadding": 14}},
    "y": {"field": "y", "type": "quantitative", "scale": {"domain": [-0.0005, 0.008], "nice": false, "zero": false}, "axis": {"values": [0, 0.002, 0.004, 0.006, 0.008], "format": ".3f", "title": "normalized flux", "titlePadding": 14}},
    "color": {"datum": "composite", "type": "nominal"}}},
  {"data": {"values": [{}]}, "mark": {"type": "text", "fontSize": 36, "color": "#262626", "align": "center", "baseline": "middle"},
   "encoding": {
    "x": {"datum": 6606.3, "type": "quantitative", "scale": {"domain": [6520, 6610], "nice": false, "zero": false}, "axis": {"values": [6520, 6530, 6540, 6550, 6560, 6570, 6580, 6590, 6600, 6610], "format": "d", "title": "Wavelength Å", "labelPadding": 7, "titlePadding": 14}},
    "y": {"datum": 0.00745, "type": "quantitative", "scale": {"domain": [-0.0005, 0.008], "nice": false, "zero": false}, "axis": {"values": [0, 0.002, 0.004, 0.006, 0.008], "format": ".3f", "title": "normalized flux", "titlePadding": 14}},
    "text": {"value": "C"}}}
 ]
}
]
}
